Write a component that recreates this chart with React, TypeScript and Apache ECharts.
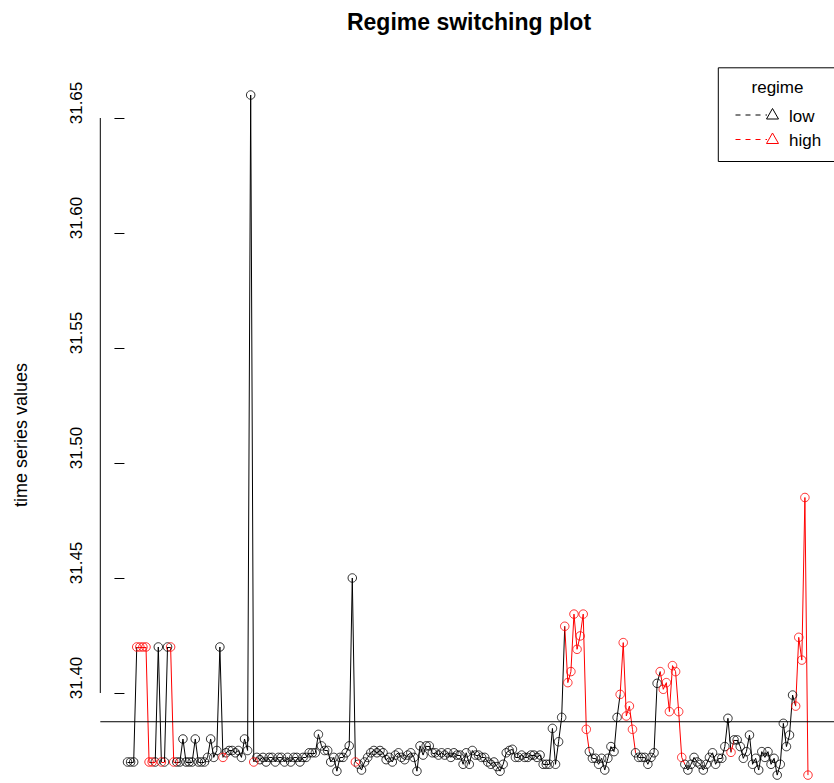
import React, { useEffect, useRef } from "react";
import * as echarts from "echarts";

const seriesValues: number[] = [
  31.370, 31.370, 31.370, 31.420, 31.420, 31.420, 31.420, 31.370, 31.370, 31.370,
  31.420, 31.370, 31.370, 31.420, 31.420, 31.370, 31.370, 31.370, 31.380, 31.370,
  31.370, 31.370, 31.380, 31.370, 31.370, 31.370, 31.372, 31.380, 31.372, 31.375,
  31.420, 31.372, 31.374, 31.375, 31.375, 31.374, 31.375, 31.372, 31.380, 31.375,
  31.660, 31.370, 31.372, 31.371, 31.372, 31.370, 31.372, 31.372, 31.370, 31.372,
  31.372, 31.370, 31.372, 31.370, 31.372, 31.372, 31.370, 31.372, 31.372, 31.374,
  31.374, 31.374, 31.382, 31.377, 31.375, 31.375, 31.370, 31.372, 31.366, 31.372,
  31.372, 31.374, 31.377, 31.450, 31.370, 31.369, 31.3665, 31.370, 31.372, 31.374,
  31.375, 31.374, 31.375, 31.374, 31.371, 31.372, 31.370, 31.373, 31.374, 31.372,
  31.371, 31.373, 31.374, 31.372, 31.366, 31.377, 31.373, 31.377, 31.377, 31.374,
  31.374, 31.373, 31.374, 31.373, 31.374, 31.372, 31.374, 31.373, 31.373, 31.369,
  31.374, 31.369, 31.375, 31.373, 31.373, 31.372, 31.372, 31.370, 31.369, 31.370,
  31.368, 31.366, 31.369, 31.374, 31.375, 31.3755, 31.372, 31.372, 31.373, 31.372,
  31.372, 31.373, 31.373, 31.372, 31.373, 31.369, 31.369, 31.369, 31.3846, 31.369,
  31.3788, 31.3894, 31.429, 31.4045, 31.4093, 31.4343, 31.419, 31.4248, 31.4343, 31.3842,
  31.3745, 31.3716, 31.3716, 31.369, 31.3716, 31.3665, 31.3716, 31.3767, 31.3745, 31.3894,
  31.3994, 31.4219, 31.390, 31.3943, 31.3842, 31.374, 31.372, 31.372, 31.372, 31.369,
  31.372, 31.374, 31.4042, 31.4093, 31.4016, 31.4045, 31.3919, 31.4119, 31.4093, 31.3919,
  31.372, 31.369, 31.3665, 31.369, 31.372, 31.370, 31.369, 31.3665, 31.369, 31.372,
  31.374, 31.369, 31.3716, 31.3716, 31.3767, 31.389, 31.3742, 31.3796, 31.3796, 31.3767,
  31.3716, 31.3745, 31.3817, 31.369, 31.3716, 31.3665, 31.3745, 31.372, 31.3745, 31.369,
  31.3716, 31.3643, 31.369, 31.3868, 31.3767, 31.3817, 31.3991, 31.3943, 31.4242, 31.4143,
  31.485, 31.3643,
];

// regime of each observation: 0 = low, 1 = high
const regimeHigh: number[] = [
  0, 0, 0, 1, 1, 1, 1, 1, 1, 0,
  0, 1, 0, 0, 1, 1, 0, 0, 0, 0,
  0, 0, 0, 0, 0, 0, 0, 0, 0, 0,
  0, 1, 0, 0, 0, 0, 0, 0, 0, 0,
  0, 1, 0, 0, 0, 0, 0, 0, 0, 0,
  0, 0, 0, 0, 0, 0, 0, 0, 0, 0,
  0, 0, 0, 0, 0, 0, 0, 0, 0, 0,
  0, 0, 0, 0, 1, 0, 0, 0, 0, 0,
  0, 0, 0, 0, 0, 0, 0, 0, 0, 0,
  0, 0, 0, 0, 0, 0, 0, 0, 0, 0,
  0, 0, 0, 0, 0, 0, 0, 0, 0, 0,
  0, 0, 0, 0, 0, 0, 0, 0, 0, 0,
  0, 0, 0, 0, 0, 0, 0, 0, 0, 0,
  0, 0, 0, 0, 0, 0, 0, 0, 0, 0,
  0, 0, 1, 1, 1, 1, 1, 1, 1, 1,
  0, 0, 0, 0, 0, 0, 0, 0, 0, 0,
  1, 1, 1, 1, 1, 0, 0, 0, 0, 0,
  0, 0, 0, 1, 1, 1, 1, 1, 1, 1,
  1, 0, 0, 0, 0, 0, 0, 0, 0, 0,
  0, 0, 0, 0, 0, 0, 1, 0, 0, 0,
  0, 0, 0, 0, 0, 0, 0, 0, 0, 0,
  0, 0, 0, 0, 0, 0, 0, 1, 1, 1,
  1, 1,
];

const yTickValues: number[] = [31.40, 31.45, 31.50, 31.55, 31.60, 31.65];
const threshold = 31.3875;
const regimeNames: string[] = ["low", "high"];
const regimeColors: string[] = ["#000000", "#FF0000"];
const legendTitle = "regime";
const chartTitle = "Regime switching plot";
const yAxisTitle = "time series values";

const FONT = "'Liberation Sans', Arial, Helvetica, sans-serif";

export default function App() {
  const ref = useRef<HTMLDivElement>(null);

  useEffect(() => {
    document.body.style.margin = "0";
    const chart = echarts.init(ref.current!, null, { renderer: "svg" });

    const n = seriesValues.length;
    const xs = seriesValues.map((_, i) => i + 1);
    const xPad = 0.04 * (n - 1);
    const xMin = 1 - xPad;
    const xMax = n + xPad;
    const yLo = Math.min(...seriesValues);
    const yHi = Math.max(...seriesValues);
    const yPad = 0.04 * (yHi - yLo);
    const yMin = yLo - yPad;
    const yMax = yHi + yPad;

    const segments: any[] = [];
    for (let i = 0; i < n - 1; i++) {
      segments.push({
        coords: [
          [xs[i], seriesValues[i]],
          [xs[i + 1], seriesValues[i + 1]],
        ],
        lineStyle: { color: regimeColors[regimeHigh[i]], width: 1, opacity: 1 },
      });
    }
    const pointsOf = (flag: number) =>
      xs
        .map((x, i) => (regimeHigh[i] === flag ? [x, seriesValues[i]] : null))
        .filter((p) => p !== null);

    const legendEls: any[] = [
      {
        type: "rect",
        z: 10,
        shape: { x: 718.3, y: 67.8, width: 116.9, height: 93.7 },
        style: { fill: "#fff", stroke: "#000", lineWidth: 1 },
      },
      {
        type: "text",
        z: 11,
        x: 777.5,
        y: 87,
        style: {
          text: legendTitle,
          fill: "#000",
          font: `17px ${FONT}`,
          textAlign: "center",
          textVerticalAlign: "middle",
        },
      },
    ];
    regimeNames.forEach((name, k) => {
      const cy = 115 + k * 24.5;
      legendEls.push(
        {
          type: "line",
          z: 11,
          shape: { x1: 735.5, y1: cy, x2: 767, y2: cy },
          style: { stroke: regimeColors[k], lineWidth: 1, lineDash: [5, 5] },
        },
        {
          type: "polygon",
          z: 11,
          shape: { points: [[772.5, cy - 6.5], [766.5, cy + 4], [778.5, cy + 4]] },
          style: { fill: "none", stroke: regimeColors[k], lineWidth: 1 },
        },
        {
          type: "text",
          z: 11,
          x: 789,
          y: cy + 1,
          style: {
            text: name,
            fill: "#000",
            font: `17px ${FONT}`,
            textAlign: "left",
            textVerticalAlign: "middle",
          },
        }
      );
    });

    chart.setOption({
      animation: false,
      backgroundColor: "#ffffff",
      grid: {
        left: 100.3,
        top: 67.8,
        width: 734.9,
        height: 734.5,
        containLabel: false,
        outerBoundsMode: "none",
      },
      xAxis: {
        type: "value",
        min: xMin,
        max: xMax,
        show: false,
      },
      yAxis: {
        type: "value",
        min: yMin,
        max: yMax,
        axisLine: { show: false },
        splitLine: { show: false },
        axisTick: {
          show: true,
          customValues: yTickValues,
          length: 10,
          lineStyle: { color: "#000", width: 1 },
        },
        axisLabel: {
          show: true,
          customValues: yTickValues,
          rotate: 90,
          align: "center",
          verticalAlign: "bottom",
          padding: [0, 0, 0, 30],
          margin: 15,
          fontSize: 17,
          color: "#000",
          fontFamily: FONT,
          formatter: (v: number) => v.toFixed(2),
        },
        name: yAxisTitle,
        nameLocation: "middle",
        nameRotate: 90,
        nameGap: 70,
        nameTextStyle: { fontSize: 18, color: "#000", fontFamily: FONT },
      },
      series: [
        {
          type: "line",
          data: [
            [xMin, yTickValues[0]],
            [xMin, yTickValues[yTickValues.length - 1]],
          ],
          symbol: "none",
          clip: false,
          silent: true,
          lineStyle: { color: "#000", width: 1 },
        },
        {
          type: "line",
          data: [
            [xMin, threshold],
            [xMax, threshold],
          ],
          symbol: "none",
          silent: true,
          lineStyle: { color: "#000", width: 1 },
        },
        {
          type: "lines",
          coordinateSystem: "cartesian2d",
          silent: true,
          data: segments,
          z: 2,
        },
        ...regimeNames.map((name, k) => ({
          type: "scatter",
          name,
          data: pointsOf(k),
          symbol: "circle",
          symbolSize: 8.5,
          silent: true,
          z: 3,
          itemStyle: {
            color: "rgba(0,0,0,0)",
            borderColor: regimeColors[k],
            borderWidth: 1,
          },
        })),
      ],
      graphic: [
        {
          type: "text",
          x: 469,
          y: 22,
          style: {
            text: chartTitle,
            fill: "#000",
            font: `bold 23px ${FONT}`,
            textAlign: "center",
            textVerticalAlign: "middle",
          },
        },
        ...legendEls,
      ],
    });

    return () => chart.dispose();
  }, []);

  return (
    <div
      ref={ref}
      style={{ position: "fixed", left: 0, top: 0, width: 834, height: 783 }}
    />
  );
}
